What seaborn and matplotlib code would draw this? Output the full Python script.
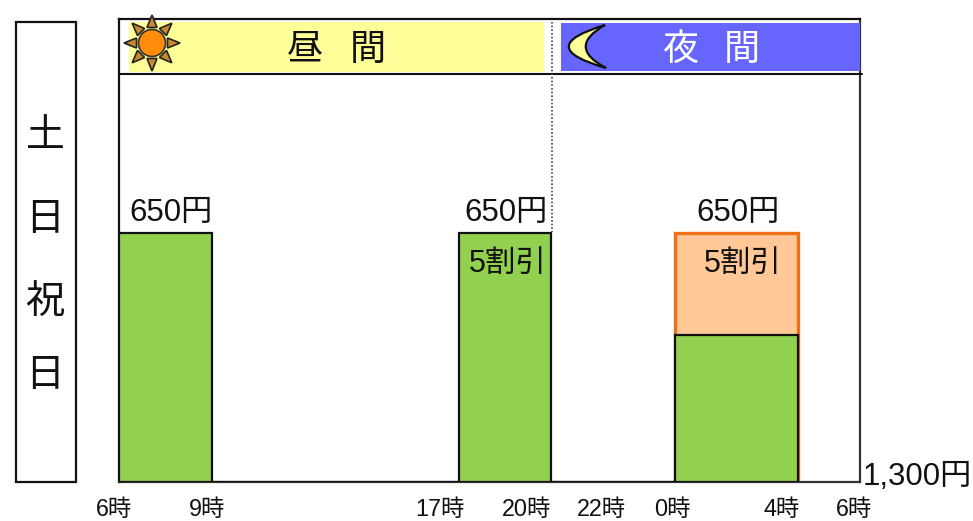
import numpy as np
import matplotlib
matplotlib.use("Agg")
import matplotlib.pyplot as plt
from matplotlib.patches import Rectangle, Circle, Polygon, PathPatch
from matplotlib.path import Path
from matplotlib.transforms import ScaledTranslation
import seaborn as sns

# ---- data ----
bin_edges = [6, 9, 17, 20, 24, 28]
bin_mids = [7.5, 13, 18.5, 22, 26]
green_values = [650, 0, 650, 0, 384]
discount_edges = [24, 28]
discount_mids = [26]
discount_totals = [650]
tick_hours = [6, 9, 17, 20, 22, 24, 28, 30]
tick_labels = ["6時", "9時", "17時", "20時", "22時", "0時", "4時", "6時"]
tick_shift_px = [-5, -5, -19, -25, -12, -2, -17, -6]
price_label = "650円"
discount_label = "5割引"
total_label = "1,300円"
day_chars = ["土", "日", "祝", "日"]

W, H = 973, 521
sns.set_theme(style="white")
FONT = ["Liberation Sans", "Noto Sans CJK JP", "DejaVu Sans"]
plt.rcParams["font.family"] = FONT

fig = plt.figure(figsize=(W / 100, H / 100), dpi=100)
fig.patch.set_facecolor("white")
L, R, T, B = 119, 860, 19, 482
ax = fig.add_axes([L / W, 1 - B / H, (R - L) / W, (B - T) / H])
ax.set_xlim(6, 30)
ax.set_ylim(0, (B - T) / 249 * 650)

sns.histplot(x=discount_mids, weights=discount_totals, bins=discount_edges, ax=ax,
             color="#FFC896", edgecolor="#F0701A", linewidth=2.4, alpha=1, zorder=2)
sns.histplot(x=bin_mids, weights=green_values, bins=bin_edges, ax=ax,
             color="#92D050", edgecolor="#111111", linewidth=1.6, alpha=1, zorder=3)
ax.set_xlim(6, 30)
ax.set_ylim(0, (B - T) / 249 * 650)
ax.set_xlabel("")
ax.set_ylabel("")
ax.set_yticks([])
ax.set_xticks(tick_hours)
ax.set_xticklabels(tick_labels, fontsize=16.8, color="#111111")
ax.tick_params(axis="x", length=0, pad=11.5)
for lab, dx in zip(ax.get_xticklabels(), tick_shift_px):
    lab.set_transform(lab.get_transform() + ScaledTranslation(dx / 100, 0, fig.dpi_scale_trans))
for name, sp in ax.spines.items():
    sp.set_visible(True)
    sp.set_color("#111111" if name in ("left", "top") else "#333333")
    sp.set_linewidth(1.6)

# overlay in image pixels for the banner, icons and annotations
ov = fig.add_axes([0, 0, 1, 1], facecolor="none")
ov.set_xlim(0, W)
ov.set_ylim(H, 0)
ov.axis("off")

ov.add_patch(Rectangle((129, 22), 415, 50, fc="#FFFF99", ec="none", zorder=1))
ov.add_patch(Rectangle((561, 23), 299, 48, fc="#6666FF", ec="none", zorder=1))
ov.plot([119, 862], [74, 74], color="#111111", lw=1.5, zorder=2)
ov.plot([552, 552], [22, 232], color="#444444", lw=1.2, ls=(0, (1, 1.2)), zorder=2)
ov.add_patch(Rectangle((16, 22), 60, 460, fc="white", ec="#111111", lw=1.6, zorder=1))

# sun
cx, cy = 152, 43
for i in range(8):
    a = i * np.pi / 4
    d = np.array([np.cos(a), np.sin(a)])
    n = np.array([-d[1], d[0]])
    c = np.array([cx, cy])
    ov.add_patch(Polygon([c + d * 28, c + d * 15.5 + n * 5, c + d * 15.5 - n * 5],
                         closed=True, fc="#C98A2E", ec="#222222", lw=1.2, zorder=3))
ov.add_patch(Circle((cx, cy), 13.5, fc="#FF8C0A", ec="#333333", lw=1.2, zorder=4))

# moon
verts = [(605, 25), (532, 47), (606, 68), (566, 47), (605, 25)]
codes = [Path.MOVETO, Path.CURVE3, Path.CURVE3, Path.CURVE3, Path.CURVE3]
ov.add_patch(PathPatch(Path(verts, codes), fc="#FFFF99", ec="#111111", lw=1.6, zorder=3))

kw = dict(ha="center", va="center", zorder=5, family=FONT)
ov.text(305, 50, "昼", fontsize=26, color="#111111", **kw)
ov.text(368, 50, "間", fontsize=26, color="#111111", **kw)
ov.text(680, 50, "夜", fontsize=26, color="white", **kw)
ov.text(742, 50, "間", fontsize=26, color="white", **kw)

for ch, y in zip(day_chars, [137, 220, 304, 376]):
    ov.text(45, y, ch, fontsize=28, color="#111111", **kw)

for x in [171, 506, 738]:
    ov.text(x, 213, price_label, fontsize=22.5, color="#111111", **kw)
for x in [508, 743]:
    ov.text(x, 264, discount_label, fontsize=22, color="#111111", **kw)
ov.text(917, 477, total_label, fontsize=22.5, color="#111111", **kw)

fig.savefig("out.png", dpi=100)
